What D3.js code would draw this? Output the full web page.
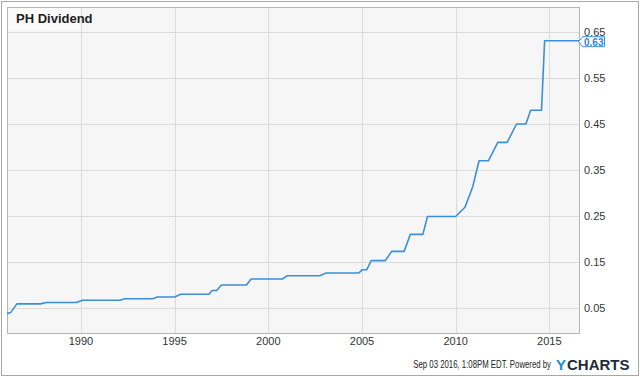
<!DOCTYPE html>
<html lang="en">
<head>
    <meta charset="UTF-8">
    <title>PH Dividend</title>
    <style>
        body { margin: 0; background: #fff; }
        text { font-family: "Liberation Sans", Arial, sans-serif; }
    </style>
</head>
<body>
<script src="https://d3js.org/d3.v7.min.js"></script>
<script>
    // dividend per share
    var dates = ["1986-01", "1986-04", "1986-08", "1987-11", "1988-03", "1989-10", "1990-02",
        "1992-02", "1992-05", "1993-11", "1994-02", "1995-01", "1995-05", "1996-11", "1997-01",
        "1997-04", "1997-07", "1998-11", "1999-02", "2000-10", "2001-01", "2002-10", "2003-02",
        "2004-11", "2005-01", "2005-04", "2005-07", "2006-04", "2006-08", "2007-04", "2007-08",
        "2008-04", "2008-07", "2010-01", "2010-07", "2010-12", "2011-04", "2011-10", "2012-04",
        "2012-10", "2013-04", "2013-10", "2014-01", "2014-08", "2014-10", "2016-08"];
    var dividends = [0.037, 0.040, 0.059, 0.059, 0.062, 0.062, 0.067,
        0.067, 0.070, 0.070, 0.074, 0.074, 0.080, 0.080, 0.088,
        0.088, 0.100, 0.100, 0.113, 0.113, 0.120, 0.120, 0.126,
        0.126, 0.133, 0.133, 0.153, 0.153, 0.173, 0.173, 0.210,
        0.210, 0.249, 0.249, 0.269, 0.314, 0.370, 0.370, 0.410,
        0.410, 0.450, 0.450, 0.480, 0.480, 0.631, 0.631];
    var yTicks = [0.05, 0.15, 0.25, 0.35, 0.45, 0.55, 0.65];
    var xTickYears = [1990, 1995, 2000, 2005, 2010, 2015];
    var lastValue = 0.63;

    var width = 640, height = 377;
    var plot = {left: 7, top: 7, right: 579, bottom: 333};
    var parse = d3.timeParse("%Y-%m");
    var data = dates.map(function (d, i) { return {date: parse(d), value: dividends[i]}; });

    var x = d3.scaleTime()
        .domain([new Date(1986, 0, 1), new Date(2016, 7, 1)])
        .range([6, 579]);
    var y = d3.scaleLinear()
        .domain([0, 0.7])
        .range([331, 9]);

    var svg = d3.select("body").append("svg")
        .attr("width", width)
        .attr("height", height);

    // outer frame
    svg.append("rect")
        .attr("x", 1.5).attr("y", 1.5)
        .attr("width", width - 3).attr("height", height - 3)
        .attr("fill", "#fff").attr("stroke", "#a8a8a8");

    // plot background
    svg.append("rect")
        .attr("x", plot.left + 0.5).attr("y", plot.top + 0.5)
        .attr("width", plot.right - plot.left).attr("height", plot.bottom - plot.top)
        .attr("fill", "#f6f6f6");

    svg.append("defs").append("clipPath").attr("id", "clip")
        .append("rect")
        .attr("x", plot.left).attr("y", plot.top)
        .attr("width", plot.right - plot.left).attr("height", plot.bottom - plot.top);

    // grid
    var grid = svg.append("g").attr("stroke", "#dcdcdc").attr("stroke-width", 1);
    grid.selectAll(".gy").data(yTicks).enter().append("line")
        .attr("x1", plot.left).attr("x2", plot.right)
        .attr("y1", function (d) { return Math.round(y(d)) + 0.5; })
        .attr("y2", function (d) { return Math.round(y(d)) + 0.5; });
    grid.selectAll(".gx").data(xTickYears).enter().append("line")
        .attr("y1", plot.top).attr("y2", plot.bottom)
        .attr("x1", function (d) { return Math.round(x(new Date(d, 0, 1))) + 0.5; })
        .attr("x2", function (d) { return Math.round(x(new Date(d, 0, 1))) + 0.5; });

    // plot border
    svg.append("rect")
        .attr("x", plot.left + 0.5).attr("y", plot.top + 0.5)
        .attr("width", plot.right - plot.left).attr("height", plot.bottom - plot.top)
        .attr("fill", "none").attr("stroke", "#b5b5b5");

    // title box
    svg.append("rect")
        .attr("x", plot.left + 1).attr("y", plot.top + 1)
        .attr("width", 72).attr("height", 22)
        .attr("fill", "#fafafa");
    svg.append("text")
        .attr("x", 16).attr("y", 23)
        .attr("font-size", 13).attr("font-weight", "bold")
        .attr("fill", "#1e1e1e")
        .text("PH Dividend");

    // line
    var line = d3.line()
        .x(function (d) { return x(d.date); })
        .y(function (d) { return y(d.value); });
    svg.append("path")
        .datum(data)
        .attr("clip-path", "url(#clip)")
        .attr("fill", "none")
        .attr("stroke", "#3b8fd8")
        .attr("stroke-width", 1.6)
        .attr("stroke-linejoin", "round")
        .attr("d", line);

    // y axis labels on the right
    svg.append("g").selectAll("text").data(yTicks).enter().append("text")
        .attr("x", 584)
        .attr("y", function (d) { return y(d) + 3.5; })
        .attr("font-size", 11).attr("fill", "#333")
        .text(function (d) { return d.toFixed(2); });

    // x axis labels
    svg.append("g").selectAll("text").data(xTickYears).enter().append("text")
        .attr("x", function (d) { return x(new Date(d, 0, 1)); })
        .attr("y", 345)
        .attr("text-anchor", "middle")
        .attr("font-size", 11).attr("fill", "#333")
        .text(function (d) { return d; });

    // last value flag
    var ly = y(lastValue) + 0.5;
    var flag = svg.append("g");
    flag.append("path")
        .attr("d", "M" + 578.5 + "," + ly + " L582.5," + (ly - 4.5) + " L582.5," + (ly - 5) +
            " L604.5," + (ly - 5) + " L604.5," + (ly + 5) + " L582.5," + (ly + 5) + " L582.5," + (ly + 4.5) + " Z")
        .attr("fill", "#fff").attr("stroke", "#3b8fd8").attr("stroke-width", 1);
    flag.append("text")
        .attr("x", 584).attr("y", ly + 3.8)
        .attr("font-size", 10).attr("font-weight", "bold")
        .attr("fill", "#2e86d6")
        .text(lastValue.toFixed(2));

    // footer, squeezed horizontally like the narrow original font
    svg.append("g")
        .attr("transform", "translate(551,368) scale(0.78,1)")
        .append("text")
        .attr("text-anchor", "end")
        .attr("font-size", 10).attr("fill", "#222")
        .text("Sep 03 2016, 1:08PM EDT.  Powered by");
    svg.append("text")
        .attr("x", 556).attr("y", 369.5)
        .attr("font-size", 15).attr("font-weight", "bold")
        .attr("fill", "#1a8cd8")
        .text("Y");
    svg.append("text")
        .attr("x", 567).attr("y", 369.5)
        .attr("font-size", 15).attr("font-weight", "bold")
        .attr("fill", "#1f2a36")
        .text("CHARTS");
</script>
</body>
</html>
